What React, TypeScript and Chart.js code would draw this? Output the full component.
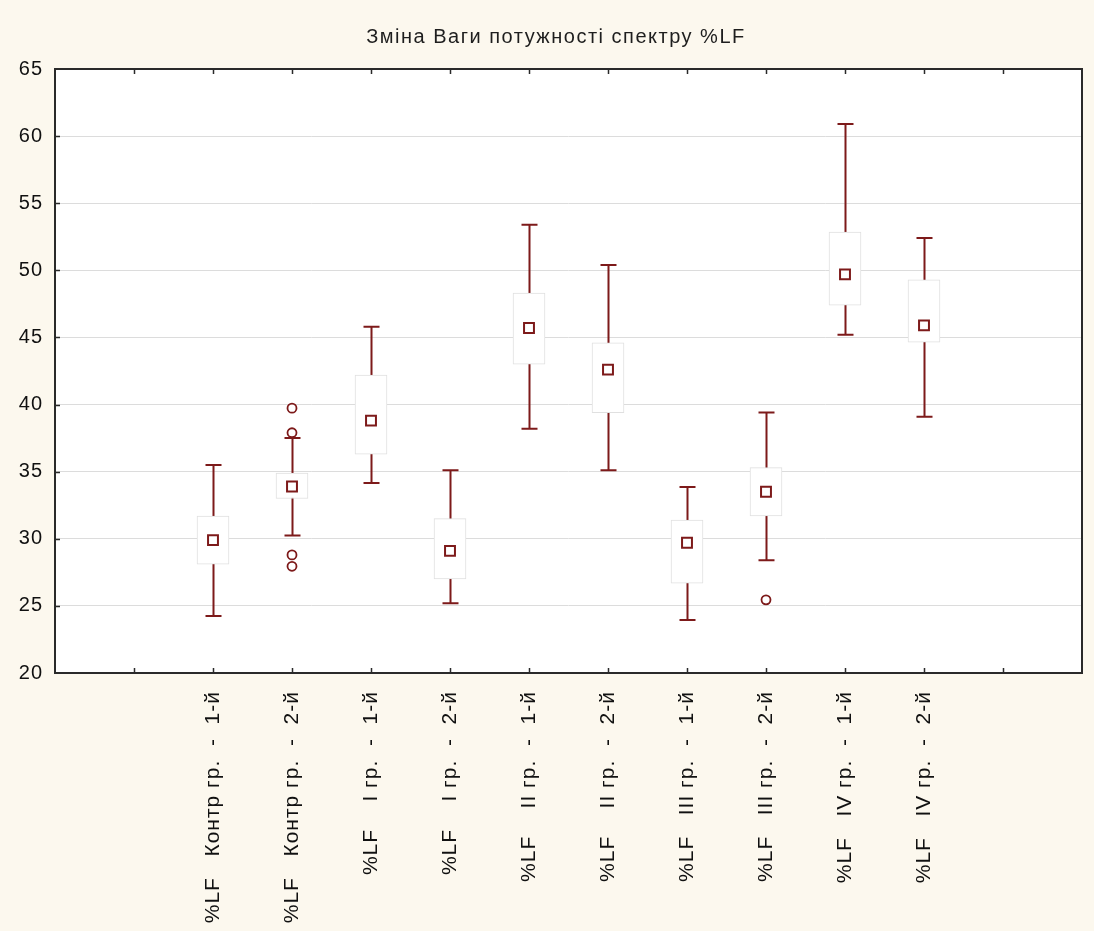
import React, { useEffect, useRef } from 'react';
import { Chart, registerables } from 'chart.js';

Chart.register(...registerables);

const TITLE = 'Зміна Ваги потужності спектру %LF';

const categories = [
  '%LF   Контр гр.  -  1-й',
  '%LF   Контр гр.  -  2-й',
  '%LF    I гр.  -  1-й',
  '%LF    I гр.  -  2-й',
  '%LF    II гр.  -  1-й',
  '%LF    II гр.  -  2-й',
  '%LF   III гр.  -  1-й',
  '%LF   III гр.  -  2-й',
  '%LF   IV гр.  -  1-й',
  '%LF   IV гр.  -  2-й',
];

const means = [29.9, 33.9, 38.8, 29.1, 45.7, 42.6, 29.7, 33.5, 49.7, 45.9];
const boxLow = [28.1, 33.0, 36.3, 27.0, 43.0, 39.4, 26.7, 31.7, 47.4, 44.65];
const boxHigh = [31.7, 34.9, 42.2, 31.5, 48.3, 44.6, 31.4, 35.3, 52.85, 49.3];
const whiskerLow = [24.25, 30.25, 34.15, 25.2, 38.2, 35.1, 23.95, 28.4, 45.2, 39.1];
const whiskerHigh = [35.5, 37.5, 45.8, 35.1, 53.4, 50.4, 33.85, 39.4, 60.9, 52.4];

const outlierCategory = [1, 1, 1, 1, 7];
const outlierValues = [39.73, 37.9, 28.8, 27.95, 25.45];

const yTickValues = [20, 25, 30, 35, 40, 45, 50, 55, 60, 65];

const LEAD = 2;
const TRAIL = 2;
const DARK_RED = '#7d1a1a';
const FONT = '"Liberation Sans", Arial, sans-serif';

export default function App() {
  const ref = useRef<HTMLCanvasElement>(null);

  useEffect(() => {
    document.body.style.margin = '0';
    document.body.style.background = '#fcf8ee';
    const canvas = ref.current;
    if (!canvas) return;

    const labels: string[] = [
      ...Array(LEAD).fill(''),
      ...categories,
      ...Array(TRAIL).fill(''),
    ];
    const inCat = (k: number) => k >= LEAD && k < LEAD + categories.length;
    const boxData = labels.map((_, k) => (inCat(k) ? [boxLow[k - LEAD], boxHigh[k - LEAD]] : null));
    const meanData = labels.map((_, k) => (inCat(k) ? means[k - LEAD] : null));
    const outData = outlierCategory.map((c, j) => ({ x: categories[c], y: outlierValues[j] }));

    const boxPlugin = {
      id: 'boxdecor',
      beforeUpdate(chart: any) {
        (chart.ctx as any).letterSpacing = '1px';
      },
      beforeDraw(chart: any) {
        const { ctx, chartArea: a } = chart;
        (ctx as any).letterSpacing = '1px';
        ctx.save();
        ctx.fillStyle = '#ffffff';
        ctx.fillRect(a.left, a.top, a.right - a.left, a.bottom - a.top);
        ctx.restore();
      },
      beforeDatasetsDraw(chart: any) {
        const { ctx } = chart;
        const xs = chart.scales.x;
        const ys = chart.scales.y;
        ctx.save();
        ctx.strokeStyle = DARK_RED;
        ctx.lineWidth = 2;
        categories.forEach((_, i) => {
          const x = Math.round(xs.getPixelForValue(i + LEAD)) + 0.5;
          const yTop = ys.getPixelForValue(whiskerHigh[i]);
          const yBot = ys.getPixelForValue(whiskerLow[i]);
          ctx.beginPath();
          ctx.moveTo(x, yTop);
          ctx.lineTo(x, yBot);
          ctx.moveTo(x - 8, yTop);
          ctx.lineTo(x + 8, yTop);
          ctx.moveTo(x - 8, yBot);
          ctx.lineTo(x + 8, yBot);
          ctx.stroke();
        });
        ctx.restore();
      },
      afterDraw(chart: any) {
        const { ctx, chartArea: a } = chart;
        const xs = chart.scales.x;
        const ys = chart.scales.y;
        ctx.save();
        ctx.strokeStyle = '#2a2a2a';
        ctx.lineWidth = 2;
        ctx.strokeRect(a.left, a.top, a.right - a.left, a.bottom - a.top);
        ctx.lineWidth = 1.5;
        ctx.beginPath();
        for (let k = 1; k < labels.length - 1; k++) {
          const x = Math.round(xs.getPixelForValue(k)) + 0.5;
          ctx.moveTo(x, a.top);
          ctx.lineTo(x, a.top + 5);
          ctx.moveTo(x, a.bottom);
          ctx.lineTo(x, a.bottom - 5);
        }
        yTickValues.slice(1, -1).forEach((v) => {
          const y = Math.round(ys.getPixelForValue(v)) + 0.5;
          ctx.moveTo(a.left, y);
          ctx.lineTo(a.left + 5, y);
        });
        ctx.stroke();
        ctx.fillStyle = '#1e1e1e';
        (ctx as any).letterSpacing = '1.5px';
        ctx.font = `20px ${FONT}`;
        ctx.textAlign = 'center';
        ctx.textBaseline = 'alphabetic';
        ctx.fillText(TITLE, 556, 43);
        ctx.restore();
      },
    };

    const chart = new Chart(canvas, {
      type: 'bar',
      data: {
        labels,
        datasets: [
          {
            type: 'scatter' as any,
            label: 'outliers',
            data: outData as any,
            pointStyle: 'circle',
            pointRadius: 4.5,
            pointBorderWidth: 1.8,
            pointBorderColor: DARK_RED,
            pointBackgroundColor: '#ffffff',
            order: 0,
          },
          {
            type: 'line' as any,
            label: 'mean',
            data: meanData as any,
            showLine: false,
            pointStyle: 'rect',
            pointRadius: 7,
            pointBorderWidth: 2,
            pointBorderColor: DARK_RED,
            pointBackgroundColor: '#ffffff',
            order: 1,
          },
          {
            type: 'bar',
            label: 'box',
            data: boxData as any,
            backgroundColor: '#ffffff',
            borderColor: '#e0e0e0',
            borderWidth: 1,
            borderSkipped: false,
            barThickness: 32,
            order: 2,
          },
        ],
      },
      options: {
        responsive: false,
        animation: false,
        layout: { padding: { top: 69, right: 12, left: 0, bottom: 0 } },
        plugins: {
          legend: { display: false },
          title: { display: false },
          tooltip: { enabled: false },
        },
        scales: {
          x: {
            type: 'category',
            offset: false,
            grid: { display: false },
            border: { display: false },
            ticks: {
              autoSkip: false,
              maxRotation: 90,
              minRotation: 90,
              padding: 10,
              color: '#111111',
              font: { family: FONT, size: 21 },
            },
            afterFit(scale: any) {
              scale.height = 258;
              scale.paddingLeft = 0;
              scale.paddingRight = 0;
            },
          },
          y: {
            min: 20,
            max: 65,
            afterBuildTicks(scale: any) {
              scale.ticks = yTickValues.map((v) => ({ value: v }));
            },
            grid: { color: '#dcdcdc', lineWidth: 1, drawTicks: false },
            border: { display: false },
            ticks: {
              padding: 12,
              color: '#111111',
              font: { family: FONT, size: 20 },
            },
            afterFit(scale: any) {
              scale.width = 55;
              scale.paddingTop = 0;
              scale.paddingBottom = 0;
            },
          },
        },
      },
      plugins: [boxPlugin],
    });

    return () => chart.destroy();
  }, []);

  return (
    <div style={{ width: 1094, height: 931, background: '#fcf8ee' }}>
      <canvas ref={ref} width={1094} height={931} />
    </div>
  );
}
